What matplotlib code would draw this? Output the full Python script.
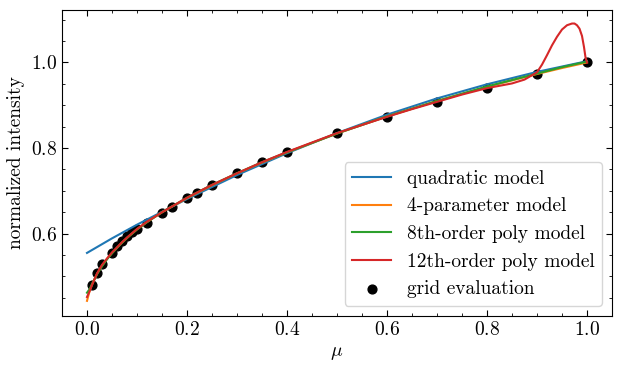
import matplotlib
matplotlib.use("Agg")
import matplotlib.pyplot as plt
from matplotlib.ticker import MultipleLocator

plt.rcParams['font.family'] = 'serif'
plt.rcParams['font.serif'] = ['cmr10']
plt.rcParams['mathtext.fontset'] = 'cm'
plt.rcParams['axes.formatter.use_mathtext'] = True
plt.rcParams['font.size'] = 14

# grid evaluation points
mu_grid = [0.01, 0.02, 0.03, 0.05, 0.06, 0.07, 0.08, 0.09, 0.10, 0.12, 0.15, 0.17,
           0.20, 0.22, 0.25, 0.30, 0.35, 0.40, 0.50, 0.60, 0.70, 0.80, 0.90, 1.00]
I_grid = [0.481, 0.509, 0.528, 0.555, 0.570, 0.582, 0.594, 0.603, 0.611, 0.625, 0.648, 0.662,
          0.683, 0.695, 0.714, 0.741, 0.767, 0.791, 0.835, 0.873, 0.908, 0.941, 0.972, 1.000]

# model curves (sampled)
mu_quad = [0.0, 0.05, 0.1, 0.15, 0.2, 0.3, 0.4, 0.5, 0.6, 0.7, 0.8, 0.9, 1.0]
I_quad = [0.555, 0.589, 0.621, 0.651, 0.681, 0.737, 0.788, 0.835, 0.878, 0.916, 0.949, 0.978, 1.003]

mu_fit = [0.0, 0.005, 0.01, 0.02, 0.03, 0.04, 0.05, 0.06, 0.07, 0.08, 0.10, 0.12, 0.15,
          0.20, 0.25, 0.30, 0.35, 0.40, 0.50, 0.60, 0.70, 0.80, 0.85, 0.90, 0.95, 1.00]
I_4par = [0.443, 0.465, 0.481, 0.506, 0.525, 0.541, 0.555, 0.567, 0.579, 0.590, 0.610, 0.627, 0.650,
          0.683, 0.713, 0.741, 0.766, 0.790, 0.834, 0.874, 0.910, 0.943, 0.958, 0.973, 0.987, 1.000]
I_8th = [0.462, 0.470, 0.482, 0.505, 0.524, 0.540, 0.554, 0.567, 0.579, 0.590, 0.610, 0.627, 0.650,
         0.684, 0.714, 0.741, 0.767, 0.790, 0.834, 0.874, 0.910, 0.944, 0.959, 0.974, 0.989, 1.002]

mu_12 = [0.0, 0.005, 0.01, 0.02, 0.03, 0.04, 0.05, 0.06, 0.07, 0.08, 0.10, 0.12, 0.15, 0.20,
         0.25, 0.30, 0.35, 0.40, 0.50, 0.60, 0.65, 0.70, 0.75, 0.80, 0.85, 0.875, 0.90, 0.91,
         0.92, 0.93, 0.94, 0.95, 0.96, 0.97, 0.975, 0.98, 0.985, 0.99, 0.994, 0.997, 1.00]
I_12 = [0.452, 0.465, 0.480, 0.507, 0.527, 0.542, 0.556, 0.568, 0.580, 0.591, 0.611, 0.628, 0.650,
        0.684, 0.714, 0.741, 0.767, 0.791, 0.835, 0.873, 0.891, 0.908, 0.925, 0.940, 0.951, 0.960,
        0.977, 0.995, 1.017, 1.040, 1.060, 1.077, 1.087, 1.091, 1.091, 1.087, 1.079, 1.062, 1.036,
        1.012, 1.000]

fig = plt.figure(figsize=(6.22, 3.72), dpi=100)
ax = fig.add_axes([62/622, 1-316/372, (612-62)/622, (316-10)/372])

ax.plot(mu_quad, I_quad, color='#1f77b4', lw=1.5, label='quadratic model', zorder=3)
ax.plot(mu_fit, I_4par, color='#ff7f0e', lw=1.5, label='4-parameter model', zorder=3)
ax.plot(mu_fit, I_8th, color='#2ca02c', lw=1.5, label='8th-order poly model', zorder=3)
ax.plot(mu_12, I_12, color='#d62728', lw=1.5, label='12th-order poly model', zorder=3)
ax.scatter(mu_grid, I_grid, color='black', s=40, label='grid evaluation', zorder=2)

ax.set_xlim(-0.05, 1.05)
ax.set_ylim(0.4076, 1.1226)
ax.xaxis.set_major_locator(MultipleLocator(0.2))
ax.xaxis.set_minor_locator(MultipleLocator(0.05))
ax.yaxis.set_major_locator(MultipleLocator(0.2))
ax.yaxis.set_minor_locator(MultipleLocator(0.05))
ax.tick_params(which='both', direction='in', top=True, right=True)
ax.tick_params(which='major', length=4)
ax.tick_params(which='minor', length=2.5)

ax.set_xlabel(r'$\mu$')
ax.set_ylabel('normalized intensity')
ax.legend(loc='lower right', fontsize=14)

fig.savefig('out.png', dpi=100)
